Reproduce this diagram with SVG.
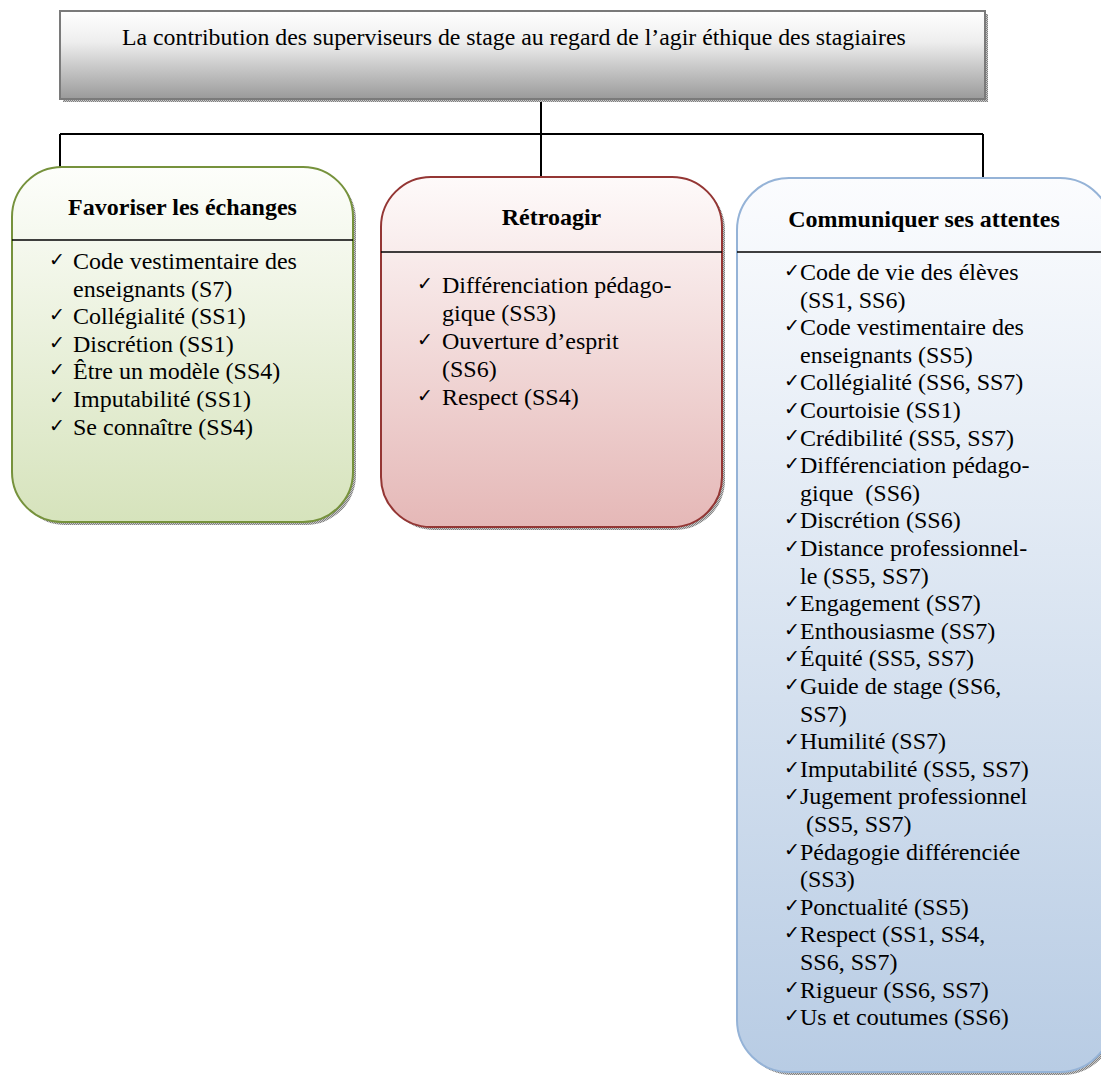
<svg xmlns="http://www.w3.org/2000/svg" width="1101" height="1076" viewBox="0 0 1101 1076">
<defs>
<linearGradient id="gTop" x1="0" y1="0" x2="0" y2="1">
<stop offset="0" stop-color="#ffffff"/><stop offset="0.35" stop-color="#eeeeee"/><stop offset="1" stop-color="#9a9a9a"/>
</linearGradient>
<linearGradient id="gGreen" x1="0" y1="0" x2="0" y2="1">
<stop offset="0" stop-color="#fdfefb"/><stop offset="1" stop-color="#d6e3bc"/>
</linearGradient>
<linearGradient id="gRed" x1="0" y1="0" x2="0" y2="1">
<stop offset="0" stop-color="#fefafa"/><stop offset="1" stop-color="#e5b8b7"/>
</linearGradient>
<linearGradient id="gBlue" x1="0" y1="0" x2="0" y2="1">
<stop offset="0" stop-color="#fbfcfe"/><stop offset="1" stop-color="#b8cce4"/>
</linearGradient>
<pattern id="dots" width="2" height="2" patternUnits="userSpaceOnUse">
<rect width="2" height="2" fill="#c8c8c8"/><rect width="1" height="1" fill="#808080"/><rect x="1" y="1" width="1" height="1" fill="#808080"/>
</pattern>
</defs>
<style>
text{font-family:"Liberation Serif","Times New Roman",serif;font-size:24px;fill:#000}
.top{font-size:23.8px}
.ttl{font-weight:bold;text-anchor:middle}
.ck{font-family:"DejaVu Sans",sans-serif;font-size:19px}
.div{stroke:#000;stroke-width:1.5}
.conn{stroke:#000;stroke-width:2;fill:none}
.shadow{fill:url(#dots)}
</style>
<g id="connectors">
<path class="conn" d="M60,134 H983 M60,134 V168 M541,99 V177 M983,134 V178"/>
</g>
<g id="root">
<rect class="shadow" x="63" y="14" width="925" height="88"/>
<rect x="60" y="11" width="925" height="88" fill="url(#gTop)" stroke="#7a7a7a" stroke-width="2"/>
<text class="top" x="122" y="45">La contribution des superviseurs de stage au regard de l’agir éthique des stagiaires</text>
</g>
<g id="favoriser">
<rect class="shadow" x="15" y="170" width="341" height="355" rx="50"/>
<rect x="12" y="167" width="341" height="355" rx="50" fill="url(#gGreen)" stroke="#76923c" stroke-width="2"/>
<line class="div" x1="12" y1="240" x2="353" y2="240"/>
<text class="ttl" x="182.5" y="215">Favoriser les échanges</text>
<text class="ck" x="49" y="266">✓</text><text x="73" y="269">Code vestimentaire des</text>
<text x="73" y="296.6">enseignants (S7)</text>
<text class="ck" x="49" y="321">✓</text><text x="73" y="324.2">Collégialité (SS1)</text>
<text class="ck" x="49" y="349">✓</text><text x="73" y="351.8">Discrétion (SS1)</text>
<text class="ck" x="49" y="376">✓</text><text x="73" y="379.4">Être un modèle (SS4)</text>
<text class="ck" x="49" y="404">✓</text><text x="73" y="407">Imputabilité (SS1)</text>
<text class="ck" x="49" y="432">✓</text><text x="73" y="435">Se connaître (SS4)</text>
</g>
<g id="retroagir">
<rect class="shadow" x="384" y="180" width="341" height="350" rx="50"/>
<rect x="381" y="177" width="341" height="350" rx="50" fill="url(#gRed)" stroke="#943634" stroke-width="2"/>
<line class="div" x1="381" y1="252" x2="722" y2="252"/>
<text class="ttl" x="551.5" y="225">Rétroagir</text>
<text class="ck" x="417" y="290">✓</text><text x="442" y="293">Différenciation pédago-</text>
<text x="442" y="321">gique (SS3)</text>
<text class="ck" x="417" y="346">✓</text><text x="442" y="349">Ouverture d’esprit</text>
<text x="442" y="377">(SS6)</text>
<text class="ck" x="417" y="402">✓</text><text x="442" y="405">Respect (SS4)</text>
</g>
<g id="communiquer">
<rect class="shadow" x="740" y="181" width="375" height="894" rx="52"/>
<rect x="737" y="178" width="375" height="894" rx="52" fill="url(#gBlue)" stroke="#95b3d7" stroke-width="2"/>
<line class="div" x1="737" y1="252" x2="1112" y2="252"/>
<text class="ttl" x="924" y="227">Communiquer ses attentes</text>
<text class="ck" x="784" y="277">✓</text><text x="800" y="280">Code de vie des élèves</text>
<text x="800" y="307.6">(SS1, SS6)</text>
<text class="ck" x="784" y="332">✓</text><text x="800" y="335.2">Code vestimentaire des</text>
<text x="800" y="362.8">enseignants (SS5)</text>
<text class="ck" x="784" y="387">✓</text><text x="800" y="390.4">Collégialité (SS6, SS7)</text>
<text class="ck" x="784" y="415">✓</text><text x="800" y="418">Courtoisie (SS1)</text>
<text class="ck" x="784" y="442">✓</text><text x="800" y="445.6">Crédibilité (SS5, SS7)</text>
<text class="ck" x="784" y="470">✓</text><text x="800" y="473.2">Différenciation pédago-</text>
<text x="800" y="500.8" xml:space="preserve">gique  (SS6)</text>
<text class="ck" x="784" y="525">✓</text><text x="800" y="528.4">Discrétion (SS6)</text>
<text class="ck" x="784" y="553">✓</text><text x="800" y="556">Distance professionnel-</text>
<text x="800" y="583.6">le (SS5, SS7)</text>
<text class="ck" x="784" y="608">✓</text><text x="800" y="611.2">Engagement (SS7)</text>
<text class="ck" x="784" y="636">✓</text><text x="800" y="638.8">Enthousiasme (SS7)</text>
<text class="ck" x="784" y="663">✓</text><text x="800" y="666.4">Équité (SS5, SS7)</text>
<text class="ck" x="784" y="691">✓</text><text x="800" y="694">Guide de stage (SS6,</text>
<text x="800" y="721.6">SS7)</text>
<text class="ck" x="784" y="746">✓</text><text x="800" y="749.2">Humilité (SS7)</text>
<text class="ck" x="784" y="774">✓</text><text x="800" y="776.8">Imputabilité (SS5, SS7)</text>
<text class="ck" x="784" y="801">✓</text><text x="800" y="804.4">Jugement professionnel</text>
<text x="800" y="832" xml:space="preserve"> (SS5, SS7)</text>
<text class="ck" x="784" y="856">✓</text><text x="800" y="859.6">Pédagogie différenciée</text>
<text x="800" y="887.2">(SS3)</text>
<text class="ck" x="784" y="912">✓</text><text x="800" y="914.8">Ponctualité (SS5)</text>
<text class="ck" x="784" y="939">✓</text><text x="800" y="942.4">Respect (SS1, SS4,</text>
<text x="800" y="970">SS6, SS7)</text>
<text class="ck" x="784" y="994">✓</text><text x="800" y="997.6">Rigueur (SS6, SS7)</text>
<text class="ck" x="784" y="1022">✓</text><text x="800" y="1025.2">Us et coutumes (SS6)</text>
</g>
</svg>
